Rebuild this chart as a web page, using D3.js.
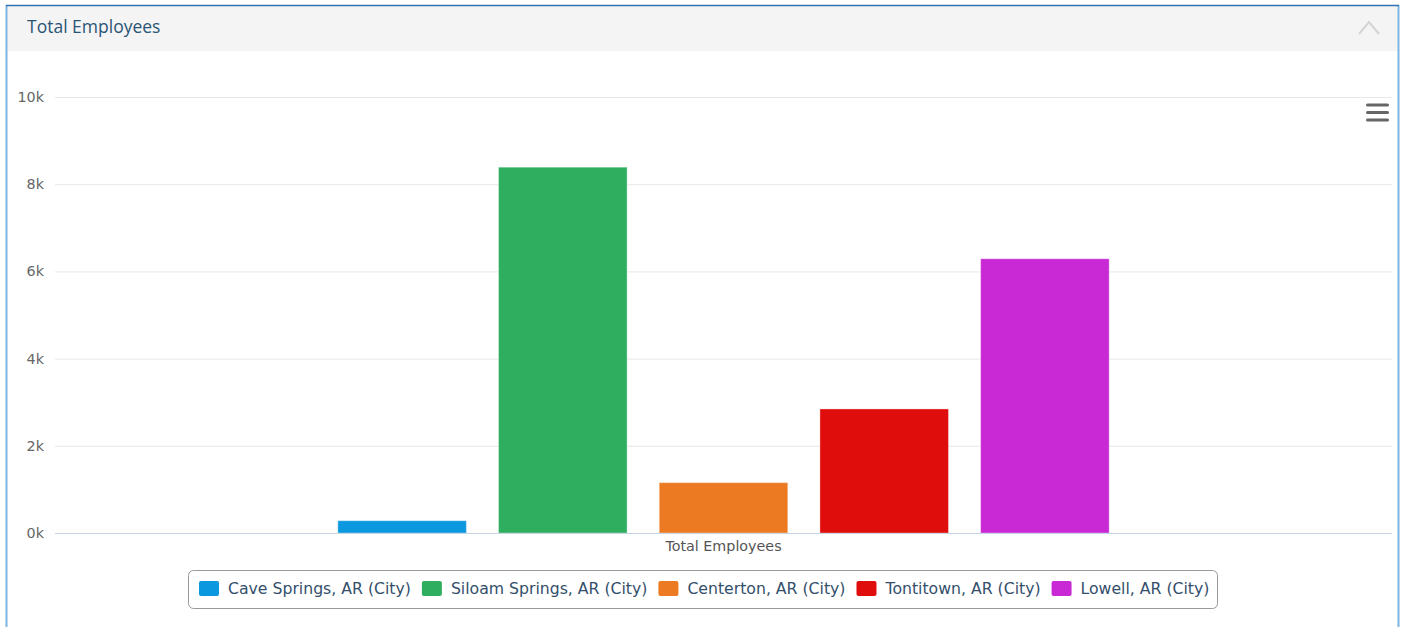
<!DOCTYPE html>
<html>
<head>
<meta charset="utf-8">
<script src="https://cdn.jsdelivr.net/npm/d3@7/dist/d3.min.js"></script>
<style>
  html, body { margin: 0; padding: 0; background: #fff; }
  svg { display: block; }
</style>
</head>
<body>
<svg id="chart" width="1403" height="627"></svg>
<script>
const categories = ["Total Employees"];
const seriesNames = ["Cave Springs, AR (City)", "Siloam Springs, AR (City)", "Centerton, AR (City)", "Tontitown, AR (City)", "Lowell, AR (City)"];
const seriesValues = [282, 8390, 1155, 2845, 6290];
const seriesColors = ["#0b98de", "#30ae60", "#ec7a22", "#e00d0d", "#c829d4"];
const yTicks = [0, 2000, 4000, 6000, 8000, 10000];
const yTickLabels = ["0k", "2k", "4k", "6k", "8k", "10k"];
const title = "Total Employees";

(function () {
const font = "'Open Sans', 'DejaVu Sans', sans-serif";
const wideFont = "'DejaVu Sans', Verdana, sans-serif";
const svg = d3.select("#chart");

// panel
svg.append("rect").attr("x", 7).attr("y", 6).attr("width", 1391).attr("height", 45).attr("fill", "#f4f4f4");
svg.append("line").attr("x1", 6.5).attr("x2", 6.5).attr("y1", 5).attr("y2", 627).attr("stroke", "#7fb5e4").attr("stroke-width", 2);
svg.append("line").attr("x1", 1398.5).attr("x2", 1398.5).attr("y1", 5).attr("y2", 627).attr("stroke", "#7fb5e4").attr("stroke-width", 2);
svg.append("line").attr("x1", 6).attr("x2", 1399).attr("y1", 5.5).attr("y2", 5.5).attr("stroke", "#2f73b3").attr("stroke-width", 1.5);
svg.append("text").attr("x", 27).attr("y", 33).attr("fill", "#2b5474")
  .attr("font-family", font).attr("font-size", 17.5).text(title);
// collapse chevron
svg.append("path").attr("d", "M1359,34 L1369,22 L1379,34").attr("fill", "none")
  .attr("stroke", "#d4d4d4").attr("stroke-width", 2);

// plot
const pLeft = 55, pRight = 1392, pTop = 97, pBottom = 533;
const y = d3.scaleLinear().domain([0, 10000]).range([pBottom, pTop]);
const x0 = d3.scaleBand().domain(categories).range([pLeft, pRight]).paddingInner(0).paddingOuter(0.332);
const x1 = d3.scaleBand().domain(seriesNames).range([0, x0.bandwidth()]).paddingInner(0.2).paddingOuter(0.1);

// grid
const yAxis = d3.axisLeft(y).tickValues(yTicks).tickSize(-(pRight - pLeft))
  .tickFormat((d, i) => yTickLabels[i]);
const gy = svg.append("g").attr("transform", `translate(${pLeft},0)`).call(yAxis);
gy.select(".domain").remove();
gy.selectAll(".tick line").attr("stroke", "#e8e8e8").attr("stroke-width", 1);
gy.selectAll(".tick text").attr("x", -11).attr("dy", "0.32em").attr("fill", "#666")
  .attr("font-family", wideFont).attr("font-size", 14.3);

// bars
const data = seriesNames.map((n, i) => ({ name: n, value: seriesValues[i], color: seriesColors[i] }));
svg.append("g").selectAll("rect").data(data).join("rect")
  .attr("x", d => x0(categories[0]) + x1(d.name))
  .attr("width", x1.bandwidth())
  .attr("y", d => y(d.value))
  .attr("height", d => y(0) - y(d.value))
  .attr("fill", d => d.color)
  .attr("stroke", "#fff").attr("stroke-opacity", 0.35).attr("stroke-width", 1);

// x axis
const xAxis = d3.axisBottom(x0).tickSize(0).tickPadding(8);
const gx = svg.append("g").attr("transform", `translate(0,${pBottom})`).call(xAxis);
gx.select(".domain").attr("stroke", "#c7d5e3").attr("d", `M${pLeft},0.5H${pRight}`);
gx.selectAll(".tick text").attr("fill", "#555").attr("font-family", wideFont).attr("font-size", 14.3);

// hamburger
[105, 112.5, 120].forEach(yy => {
  svg.append("rect").attr("x", 1366).attr("y", yy - 1.5).attr("width", 23).attr("height", 3)
    .attr("rx", 1.5).attr("fill", "#666");
});

// legend
const lg = svg.append("g");
lg.append("rect").attr("x", 188.5).attr("y", 570.5).attr("width", 1029).attr("height", 38)
  .attr("rx", 5).attr("fill", "#fff").attr("stroke", "#999");
const items = lg.selectAll("g").data(data).join("g");
items.append("rect").attr("width", 20).attr("height", 15).attr("rx", 2).attr("y", 581)
  .attr("fill", d => d.color);
items.append("text").attr("y", 594).attr("x", 29).attr("fill", "#334f6b")
  .attr("font-family", wideFont).attr("font-size", 15.7).text(d => d.name);
let cx = 199;
items.each(function () {
  const g = d3.select(this);
  g.attr("transform", `translate(${cx},0)`);
  const w = g.select("text").node().getComputedTextLength();
  cx += 29 + w + 11;
});
})();
</script>
</body>
</html>
